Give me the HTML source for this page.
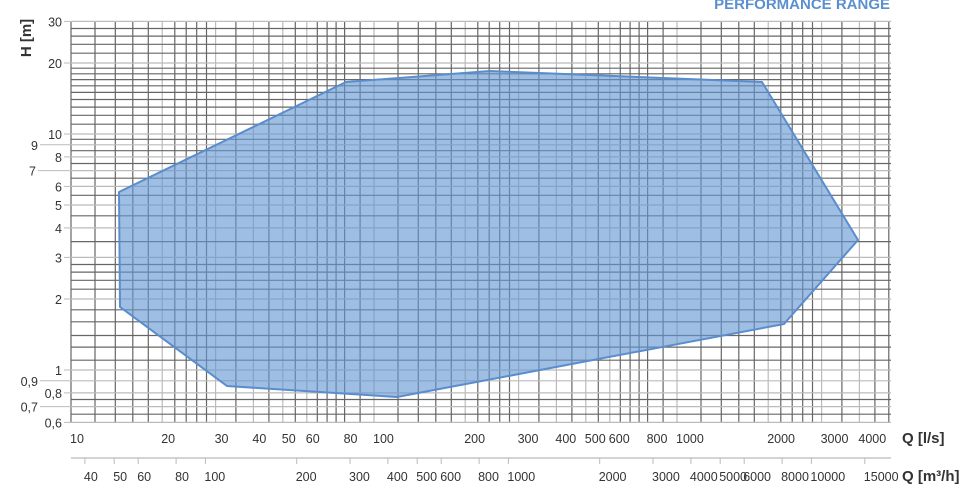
<!DOCTYPE html>
<html><head><meta charset="utf-8"><style>
html,body{margin:0;padding:0;background:#fff;}
svg{display:block;font-family:"Liberation Sans","DejaVu Sans",sans-serif;}
</style></head><body>
<svg id="s" width="979" height="492" viewBox="0 0 979 492" xmlns="http://www.w3.org/2000/svg">
<text x="890" y="9" text-anchor="end" font-size="15" font-weight="bold" fill="#5b8fcf">PERFORMANCE RANGE</text>
<g id="grid"></g>
<polygon points="119,192 120,307 227,386 397,397 784,324 858,240 762,82 490,71 346,82" fill="rgba(100,150,212,0.62)" stroke="#5a8dcc" stroke-width="2" stroke-linejoin="round"/>
<g id="lab" font-size="12.5" fill="#333"></g>
<text transform="translate(31,38) rotate(-90)" text-anchor="middle" font-size="15" font-weight="bold" fill="#333">H [m]</text>
<text x="902" y="443" font-size="15" font-weight="bold" fill="#333">Q [l/s]</text>
<text x="902" y="481" font-size="15" font-weight="bold" fill="#333">Q [m³/h]</text>
</svg>
<script>
var X0=71,XD=303,Y1=370,YD=236,XR=891,YT=22,YB=422;
function xp(v){return X0+XD*Math.log10(v/10);}
function yp(v){return Y1-YD*Math.log10(v);}
var g='';
var vx=[];
[1,1.2,1.4,1.6,1.8,2,2.2,2.4,2.6,2.8,3,3.5,4,4.5,5,5.5,6,6.5,7,7.5,8,9].forEach(function(m){[10,100,1000].forEach(function(d){vx.push(m*d);});});
vx.push(10000);
var lightX=[20,30,40,50,60,100,200,300,400,500,600,1000,2000,3000,4000];
vx.forEach(function(v){var x=xp(v);if(x>XR+0.5)return;var l=lightX.indexOf(Math.round(v))>=0;
g+='<line x1="'+x.toFixed(1)+'" y1="'+YT+'" x2="'+x.toFixed(1)+'" y2="'+YB+'" stroke="'+(l?'#bbb':'#666')+'" stroke-width="1.2"/>';});
var vy=[0.6,0.65,0.7,0.75,0.8,0.9,1,1.1,1.25,1.4,1.6,1.8,2,2.2,2.4,2.6,2.8,3,3.5,4,4.5,5,5.5,6,6.5,7,7.5,8,8.5,9,9.5];
for(var v=10;v<20;v+=1)vy.push(v);
for(var v=20;v<=30.01;v+=2)vy.push(v);
var lightY=[0.6,0.7,0.8,0.9,1,2,3,4,5,6,7,8,9,10,20,30];
vy.forEach(function(v){var y=yp(v);var l=lightY.some(function(k){return Math.abs(k-v)<1e-6;});
g+='<line x1="'+X0+'" y1="'+y.toFixed(1)+'" x2="'+XR+'" y2="'+y.toFixed(1)+'" stroke="'+(l?'#bbb':'#666')+'" stroke-width="1.2"/>';});
g+='<line x1="'+X0+'" y1="458" x2="'+XR+'" y2="458" stroke="#bbb" stroke-width="1.2"/>';
document.getElementById('grid').innerHTML=g;
var t='';
[10,20,30,40,50,60,80,100,200,300,400,500,600,800,1000,2000,3000,4000].forEach(function(v){
t+='<text x="'+(xp(v)-1).toFixed(1)+'" y="443">'+v+'</text>';});
[40,50,60,80,100,200,300,400,500,600,800,1000,2000,3000,4000,5000,6000,8000,10000,15000].forEach(function(v){
var x=xp(v/3.6);t+='<line x1="'+x.toFixed(1)+'" y1="458" x2="'+x.toFixed(1)+'" y2="464" stroke="#bbb"/>';
t+='<text x="'+(x-1).toFixed(1)+'" y="481">'+v+'</text>';});
[[30,'30',62],[20,'20',62],[10,'10',62],[9,'9',38],[8,'8',62],[7,'7',36],[6,'6',62],[5,'5',62],[4,'4',62],[3,'3',62],[2,'2',62],[1,'1',62],[0.9,'0,9',38],[0.8,'0,8',62],[0.7,'0,7',38],[0.6,'0,6',62]].forEach(function(a){
var y=yp(a[0]);
t+='<line x1="'+(a[2]+2)+'" y1="'+y.toFixed(1)+'" x2="'+X0+'" y2="'+y.toFixed(1)+'" stroke="#bbb"/>';
t+='<text x="'+a[2]+'" y="'+(y+5).toFixed(1)+'" text-anchor="end">'+a[1]+'</text>';});
document.getElementById('lab').innerHTML=t;
</script>
</body></html>
